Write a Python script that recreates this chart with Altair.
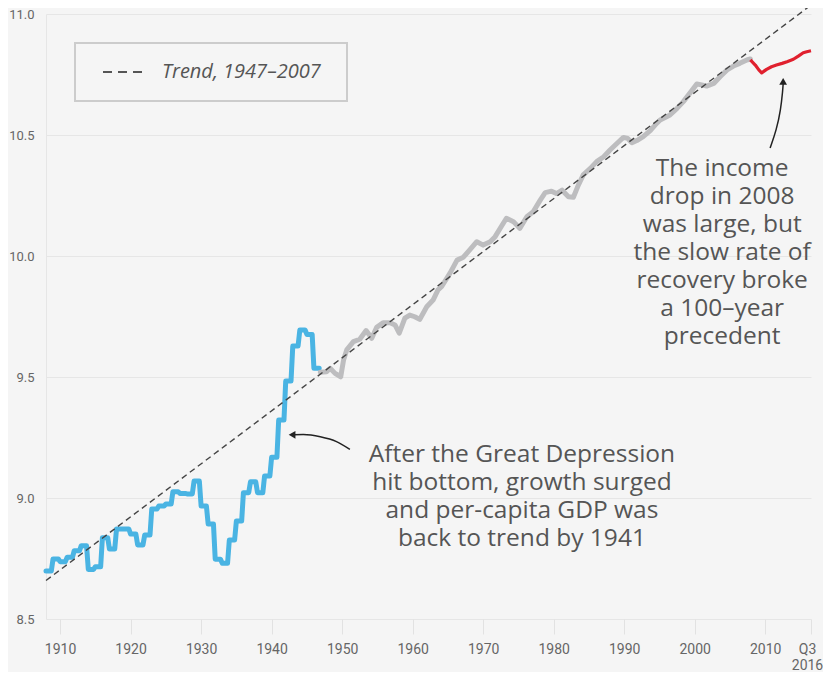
import altair as alt
import pandas as pd

# ---------------- data ----------------
blue_years = list(range(1908, 1947))
blue_vals = [8.698, 8.748, 8.737, 8.755, 8.782, 8.803, 8.705, 8.716, 8.836, 8.789,
             8.872, 8.872, 8.851, 8.806, 8.847, 8.955, 8.967, 8.975, 9.026, 9.019,
             9.017, 9.070, 8.967, 8.893, 8.747, 8.730, 8.826, 8.905, 9.022, 9.067,
             9.022, 9.091, 9.168, 9.322, 9.483, 9.628, 9.694, 9.676, 9.536]

gray_years = [1946.9, 1947.8, 1948.3, 1949.0, 1949.8, 1950.2, 1950.65, 1951.6, 1952.5, 1953.4,
              1954.2, 1954.9, 1955.8, 1956.8, 1957.5, 1958.1, 1958.9, 1959.6, 1960.3, 1961.0,
              1962.0, 1962.9, 1963.6, 1964.1, 1965.3, 1966.3, 1967.2, 1968.1, 1969.1, 1970.0,
              1971.0, 1971.7, 1972.4, 1973.3, 1974.3, 1975.2, 1976.2, 1977.1, 1978.1, 1978.8,
              1979.7, 1980.4, 1981.2, 1982.1, 1982.8, 1983.5, 1984.2, 1985.2, 1986.1, 1987.1,
              1988.0, 1989.0, 1989.9, 1990.5, 1991.1, 1991.8, 1992.7, 1993.7, 1994.6, 1995.1,
              1996.5, 1997.5, 1998.4, 1999.3, 2000.3, 2001.0, 2001.7, 2002.7, 2003.6, 2004.6,
              2005.5, 2006.4, 2007.4, 2007.9]
gray_vals = [9.520, 9.522, 9.536, 9.515, 9.501, 9.570, 9.612, 9.646, 9.656, 9.692,
             9.660, 9.705, 9.724, 9.724, 9.715, 9.681, 9.743, 9.756, 9.749, 9.738,
             9.790, 9.818, 9.860, 9.873, 9.929, 9.983, 9.995, 10.025, 10.059, 10.045,
             10.059, 10.080, 10.114, 10.156, 10.142, 10.114, 10.162, 10.183, 10.231, 10.262,
             10.268, 10.258, 10.272, 10.245, 10.243, 10.293, 10.335, 10.362, 10.390, 10.410,
             10.438, 10.466, 10.490, 10.486, 10.468, 10.477, 10.493, 10.518, 10.548, 10.562,
             10.583, 10.610, 10.638, 10.672, 10.711, 10.707, 10.702, 10.713, 10.741, 10.769,
             10.785, 10.796, 10.810, 10.814]

red_years = [2007.9, 2008.6, 2009.1, 2009.5, 2010.2, 2010.9, 2011.6, 2012.4, 2013.1,
             2014.0, 2014.7, 2015.4, 2015.9, 2016.5]
red_vals = [10.810, 10.789, 10.769, 10.757, 10.771, 10.782, 10.789, 10.796, 10.803,
            10.813, 10.826, 10.840, 10.844, 10.848]

trend_years = [1908, 2016.5]
trend_vals = [8.659, 11.037]

x_ticks = [1910, 1920, 1930, 1940, 1950, 1960, 1970, 1980, 1990, 2000, 2010, 2016.5]
y_ticks = [8.5, 9.0, 9.5, 10.0, 10.5, 11.0]

note_left = "After the Great Depression\nhit bottom, growth surged\nand per-capita GDP was\nback to trend by 1941"
note_right = "The income\ndrop in 2008\nwas large, but\nthe slow rate of\nrecovery broke\na 100–year\nprecedent"
legend_label = "Trend, 1947–2007"

# annotation anchors (data space; first line of each note)
note_years = [1975.5, 2003.9]
note_vals = [9.178, 10.360]
arrow1_years = [1951.1, 1949.2, 1946.9, 1944.5, 1943.2]
arrow1_vals = [9.201, 9.233, 9.253, 9.262, 9.261]
arrow2_years = [2010.7, 2011.6, 2012.2, 2012.5, 2012.55]
arrow2_vals = [10.446, 10.521, 10.603, 10.686, 10.712]

# ---------------- tables ----------------
blue_rows = []
for yr, v in zip(blue_years, blue_vals):
    for q in (0.0, 0.25, 0.5, 0.75):
        blue_rows.append({"year": yr + q, "v": v})
blue_df = pd.DataFrame(blue_rows)
gray_df = pd.DataFrame({"year": gray_years, "v": gray_vals})
red_df = pd.DataFrame({"year": red_years, "v": red_vals})
trend_df = pd.DataFrame({"year": trend_years, "v": trend_vals})
a1_df = pd.DataFrame({"year": arrow1_years, "v": arrow1_vals, "i": range(len(arrow1_years))})
a2_df = pd.DataFrame({"year": arrow2_years, "v": arrow2_vals, "i": range(len(arrow2_years))})
h1_df = pd.DataFrame({"year": [1942.9], "v": [9.261]})
h2_df = pd.DataFrame({"year": [2012.55], "v": [10.722]})
notes_df = pd.DataFrame({"year": note_years, "v": note_vals, "t": [note_left, note_right]})
one = pd.DataFrame({"a": [0]})

FONT = "Open Sans"
TXT = "#555555"

X = alt.X("year:Q",
          scale=alt.Scale(domain=[1908, 2016.5], nice=False, zero=False),
          axis=alt.Axis(values=x_ticks, title=None, grid=False, domain=False,
                        ticks=True, tickSize=15, tickColor="#e2e2e2", tickWidth=1,
                        labelExpr="datum.value > 2015 ? ['Q3', '2016'] : format(datum.value, 'd')",
                        labelFont="Roboto", labelFontSize=14, labelColor="#666666",
                        labelPadding=8, labelFlush=False, labelOverlap=False,
                        labelLineHeight=16,
                        labelOffset={"condition": {"test": "datum.value > 2015", "value": -4},
                                     "value": 0}))
Y = alt.Y("v:Q",
          scale=alt.Scale(domain=[8.5, 11.0], nice=False, zero=False),
          axis=alt.Axis(values=y_ticks, format=".1f", title=None, grid=True,
                        gridColor="#e6e6e6", domain=True, domainColor="#e6e6e6",
                        ticks=False, labelFont="Roboto", labelFontSize=13,
                        labelColor="#666666", labelPadding=12))

blue = alt.Chart(blue_df).mark_line(color="#4ab4e3", strokeWidth=5, strokeJoin="round",
                                    strokeCap="round").encode(x=X, y=Y)
gray = alt.Chart(gray_df).mark_line(color="#bdbdbf", strokeWidth=5, strokeJoin="round",
                                    strokeCap="round").encode(x=X, y=Y)
red = alt.Chart(red_df).mark_line(color="#e0202e", strokeWidth=3.2,
                                  strokeJoin="round").encode(x=X, y=Y)
trend = alt.Chart(trend_df).mark_line(color="#444444", strokeWidth=1.4,
                                      strokeDash=[6, 4]).encode(x=X, y=Y)

arrow1 = alt.Chart(a1_df).mark_line(color="#222222", strokeWidth=1.5,
                                    interpolate="monotone").encode(x=X, y=Y, order="i:Q")
arrow2 = alt.Chart(a2_df).mark_line(color="#222222", strokeWidth=1.5,
                                    interpolate="basis").encode(x=X, y=Y, order="i:Q")
head1 = alt.Chart(h1_df).mark_point(shape="triangle-left", filled=True, color="#222222",
                                    size=60, opacity=1).encode(x=X, y=Y)
head2 = alt.Chart(h2_df).mark_point(shape="triangle-up", filled=True, color="#222222",
                                    size=60, opacity=1).encode(x=X, y=Y)

notes = alt.Chart(notes_df).mark_text(font=FONT, fontSize=24.5, color=TXT, align="center",
                                      baseline="middle", lineBreak="\n",
                                      lineHeight=28).encode(x=X, y=Y, text="t:N")

legend_box = alt.Chart(one).mark_rect(fill="#f5f5f5", stroke="#cccccc", strokeWidth=2).encode(
    x=alt.value(29), x2=alt.value(301), y=alt.value(29), y2=alt.value(87))
legend_line = alt.Chart(one).mark_rule(color="#555555", strokeWidth=2, strokeDash=[9, 6]).encode(
    x=alt.value(57), x2=alt.value(100), y=alt.value(58))
legend_text = alt.Chart(one).mark_text(font=FONT, fontSize=20, fontStyle="italic", color=TXT,
                                       align="left", baseline="middle").encode(
    x=alt.value(116), y=alt.value(58), text=alt.value(legend_label))

chart = alt.layer(
    blue, gray, red, trend, arrow1, arrow2, head1, head2, notes,
    legend_box, legend_line, legend_text
).properties(
    width=765, height=605, background="#f5f5f5",
    autosize=alt.AutoSizeParams(type="none"),
    padding={"left": 38, "top": 6, "right": 12, "bottom": 53},
).configure_view(strokeWidth=0)

chart.save("out.html", embed_options={"renderer": "svg", "actions": False})
